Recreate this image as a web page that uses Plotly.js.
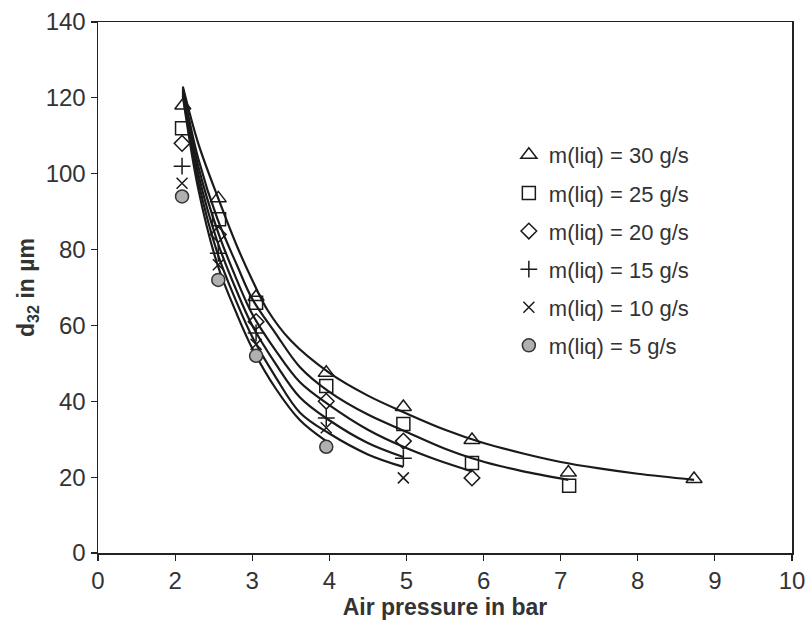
<!DOCTYPE html>
<html>
<head>
<meta charset="utf-8">
<script src="https://cdn.plot.ly/plotly-3.0.1.min.js"></script>
<style>html,body{margin:0;padding:0;background:#fff;}#chart{width:810px;height:635px;}</style>
</head>
<body>
<div id="chart"></div>
<script>
// Measured points
var names = ["m(liq) = 30 g/s","m(liq) = 25 g/s","m(liq) = 20 g/s","m(liq) = 15 g/s","m(liq) = 10 g/s","m(liq) = 5 g/s"];
var x30 = [2.1, 2.56, 3.05, 3.96, 4.96, 5.85, 7.1, 8.73];
var y30 = [118, 93.5, 67.5, 47.5, 38.5, 29.8, 21.2, 19.5];
var x25 = [2.09, 2.57, 3.05, 3.96, 4.96, 5.85, 7.11];
var y25 = [112, 88, 66, 44, 34, 23.7, 17.7];
var x20 = [2.09, 2.56, 3.05, 3.96, 4.96, 5.85];
var y20 = [108, 84, 61, 40, 29.5, 19.8];
var x15 = [2.09, 2.56, 3.05, 3.96, 4.96];
var y15 = [102, 79, 58, 35.6, 25];
var x10 = [2.09, 2.56, 3.05, 3.96, 4.96];
var y10 = [97.5, 76, 55, 33, 19.8];
var x5 = [2.09, 2.56, 3.05, 3.96];
var y5 = [94, 72, 52, 28];

// Fitted curves
var cx30 = [2.1, 2.3, 2.55, 2.8, 3.0, 3.2, 3.5, 4.0, 4.5, 5.0, 5.5, 6.0, 6.5, 7.0, 7.5, 8.0, 8.73];
var cy30 = [123, 108, 94, 81, 72, 64, 56, 47.5, 41.5, 36.8, 32.5, 29, 26.3, 24, 22.3, 20.9, 19.3];
var cx25 = [2.1, 2.3, 2.55, 2.8, 3.0, 3.3, 3.62, 4.0, 4.5, 4.96, 5.5, 5.85, 6.2, 6.5, 7.1];
var cy25 = [122.5, 104, 88, 76, 67, 58, 49, 42.5, 36.5, 32.3, 27.5, 25, 23, 21.6, 19.3];
var cx20 = [2.1, 2.3, 2.55, 2.8, 3.0, 3.3, 3.62, 4.0, 4.5, 4.96, 5.4, 5.85];
var cy20 = [122, 102, 85, 72, 63, 53.5, 45, 39, 32.5, 28, 24.5, 21.5];
var cx15 = [2.1, 2.3, 2.55, 2.8, 3.0, 3.3, 3.62, 4.0, 4.5, 4.96];
var cy15 = [121.5, 100, 82, 69, 60, 50, 41, 35, 29, 25.3];
var cx10 = [2.1, 2.3, 2.55, 2.8, 3.0, 3.3, 3.62, 4.0, 4.5, 4.96];
var cy10 = [121, 98, 79, 66, 57, 46.5, 37, 31.5, 26, 22.7];
var cx5 = [2.1, 2.3, 2.55, 2.8, 3.0, 3.3, 3.62, 3.96];
var cy5 = [120.5, 96, 76, 63, 54, 43.5, 35, 29.5];

var xTickVals = [1, 2, 3, 4, 5, 6, 7, 8, 9, 10];
var xTickText = ["0", "2", "3", "4", "5", "6", "7", "8", "9", "10"];

var ink = "#1a1a1a";
var pts = [[x30,y30],[x25,y25],[x20,y20],[x15,y15],[x10,y10],[x5,y5]];
var curves = [[cx30,cy30],[cx25,cy25],[cx20,cy20],[cx15,cy15],[cx10,cy10],[cx5,cy5]];
var symbols = ["triangle-up-open","square-open","diamond-open","cross-thin-open","x-thin-open","circle"];
var sizes = [14, 13, 12, 12, 11, 13];

var traces = [];
for (var i = 0; i < curves.length; i++) {
  traces.push({x: curves[i][0], y: curves[i][1], mode: "lines", type: "scatter",
    line: {color: ink, width: 2.2, shape: "spline"}, showlegend: false, hoverinfo: "skip"});
}
for (var j = 0; j < pts.length; j++) {
  var m = {symbol: symbols[j], size: sizes[j], color: ink, line: {color: ink, width: 1.5}};
  if (j === 5) { m.color = "#b0b0b0"; m.line = {color: "#333", width: 1.5}; }
  traces.push({x: pts[j][0], y: pts[j][1], mode: "markers", type: "scatter",
    name: names[j], marker: m, legendgroup: "g" + j});
}

var layout = {
  width: 810, height: 635,
  margin: {l: 98, r: 18, t: 22, b: 82},
  paper_bgcolor: "#fff", plot_bgcolor: "#fff",
  font: {family: "Liberation Sans, Arial, sans-serif", color: "#333"},
  xaxis: {
    range: [1, 10], tickvals: xTickVals, ticktext: xTickText,
    showgrid: false, zeroline: false, showline: true, linecolor: "#222", linewidth: 1.5,
    mirror: true, ticks: "outside", ticklen: 6, tickcolor: "#222", tickwidth: 1.2,
    tickfont: {size: 24, color: "#333"},
    title: {text: "<b>Air pressure in bar</b>", font: {size: 23, color: "#333"}, standoff: 4}
  },
  yaxis: {
    range: [0, 140], dtick: 20,
    showgrid: false, zeroline: false, showline: true, linecolor: "#222", linewidth: 1.5,
    mirror: true, ticks: "outside", ticklen: 6, tickcolor: "#222", tickwidth: 1.2,
    tickfont: {size: 24, color: "#333"},
    title: {text: "<b>d<sub>32</sub> in µm</b>", font: {size: 23, color: "#333"}, standoff: 4}
  },
  legend: {
    x: 0.592, y: 0.789, xanchor: "left", yanchor: "top",
    bgcolor: "rgba(0,0,0,0)", borderwidth: 0,
    font: {size: 22, color: "#333"},
    traceorder: "grouped", tracegroupgap: 6.5, itemwidth: 30
  },
  showlegend: true
};

Plotly.newPlot("chart", traces, layout, {staticPlot: true, displayModeBar: false});
</script>
</body>
</html>
